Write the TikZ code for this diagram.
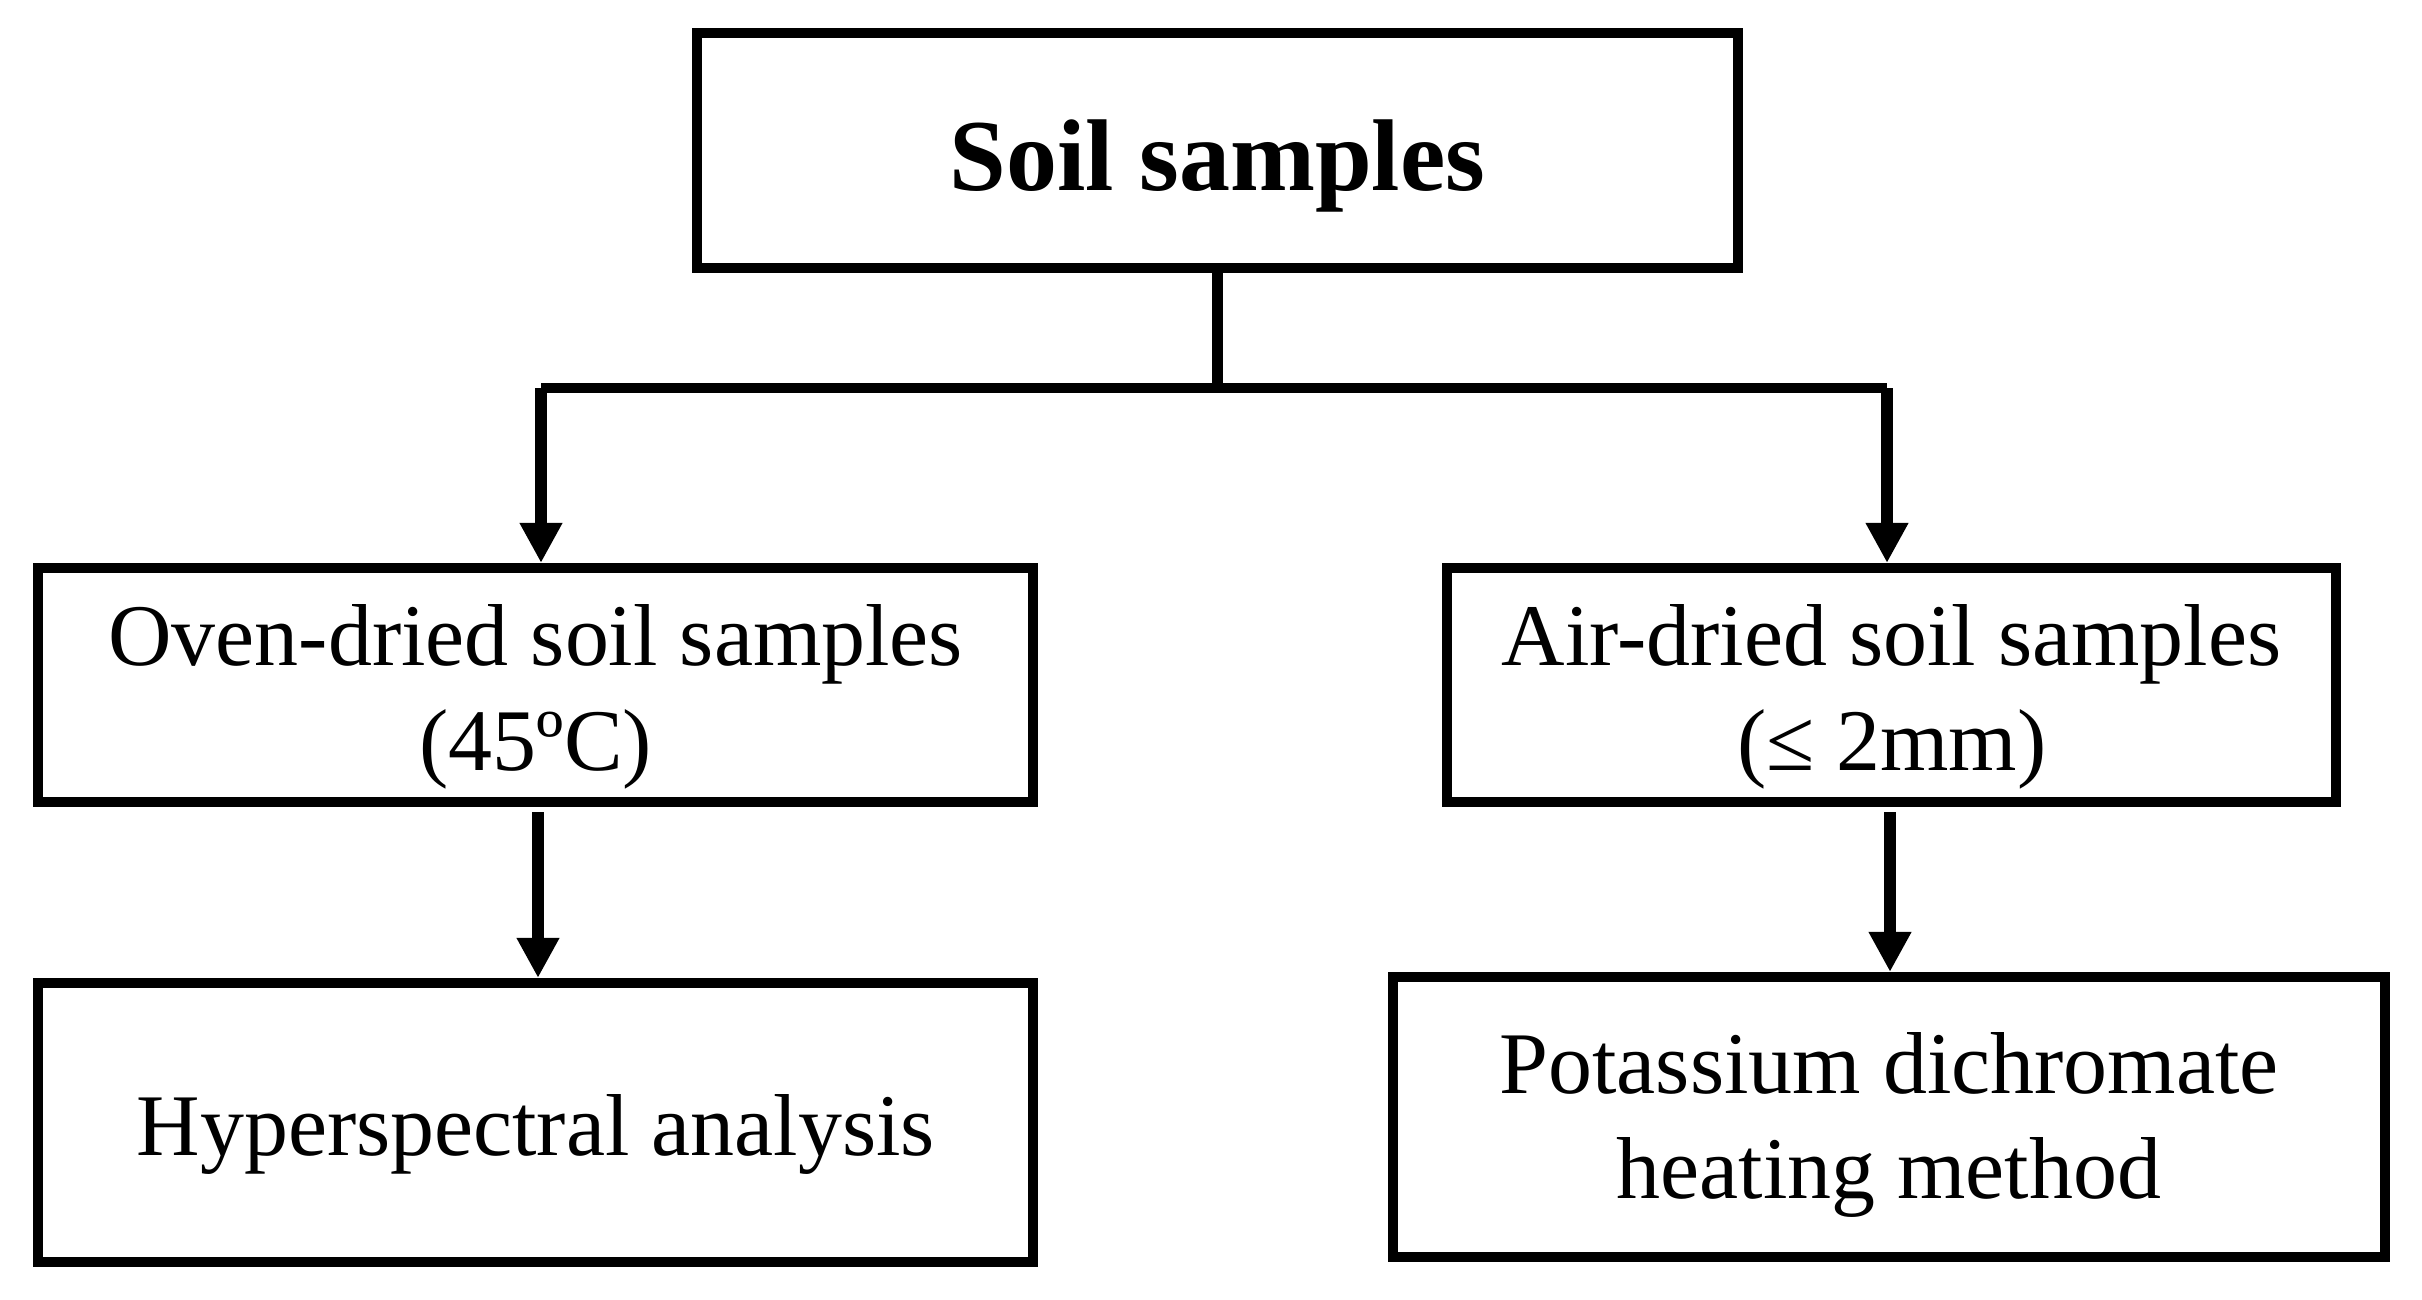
\documentclass[tikz,border=0pt]{standalone}
\usepackage{fontspec}
\setmainfont{Liberation Serif}
\usetikzlibrary{arrows.meta,calc}
\tikzset{
  box/.style={draw=black, line width=0.1cm, inner sep=0pt},
  txt/.style={inner sep=0pt, align=center, font=\fontsize{25}{30}\selectfont},
  titletxt/.style={txt, font=\fontsize{29}{34}\selectfont\bfseries},
  conn/.style={draw=black, line width=0.105cm, line join=miter},
  arr/.style={draw=black, line width=0.12cm,
    -{Triangle[width=0.4cm,length=0.4cm]}},
}
\begin{document}
\begin{tikzpicture}[x=0.01cm,y=-0.01cm]
\useasboundingbox (0,0) rectangle (2422,1299);
\fill[white] (0,0) rectangle (2422,1299);

\node[box, minimum width=10.41cm, minimum height=2.34cm] (top) at (1217.5,150.5) {};
\node[box, minimum width=9.945cm, minimum height=2.335cm] (lm) at (535.75,684.75) {};
\node[box, minimum width=8.885cm, minimum height=2.335cm] (rm) at (1891.75,684.75) {};
\node[box, minimum width=9.945cm, minimum height=2.79cm] (lb) at (535.75,1122.5) {};
\node[box, minimum width=9.92cm, minimum height=2.80cm] (rb) at (1889,1117) {};

\node[titletxt] (toptxt) at ([yshift=-0.15cm]top.center) {Soil samples};
\node[txt] (lmtxt) at ([yshift=-0.12cm]lm.center) {Oven-dried soil samples\\(45ºC)};
\node[txt] (rmtxt) at ([yshift=-0.12cm]rm.center) {Air-dried soil samples\\(≤ 2mm)};
\node[txt] (lbtxt) at ([yshift=-0.12cm]lb.center) {Hyperspectral analysis};
\node[txt] (rbtxt) at ([yshift=-0.08cm]rb.center) {Potassium dichromate\\heating method};

\coordinate (barL) at (541,388);
\coordinate (barR) at (1887,388);
\coordinate (barM) at (top.south |- barL);
\coordinate (lmS) at (538,812);
\coordinate (rmS) at (1890,812);

\draw[conn] (top.south) -- (barM);
\draw[conn] (barL) -- (barR);
\draw[arr] (barL) -- (barL |- lm.north);
\draw[arr] (barR) -- (barR |- rm.north);
\draw[arr] (lmS) -- (lmS |- lb.north);
\draw[arr] (rmS) -- (rmS |- rb.north);
\end{tikzpicture}
\end{document}
